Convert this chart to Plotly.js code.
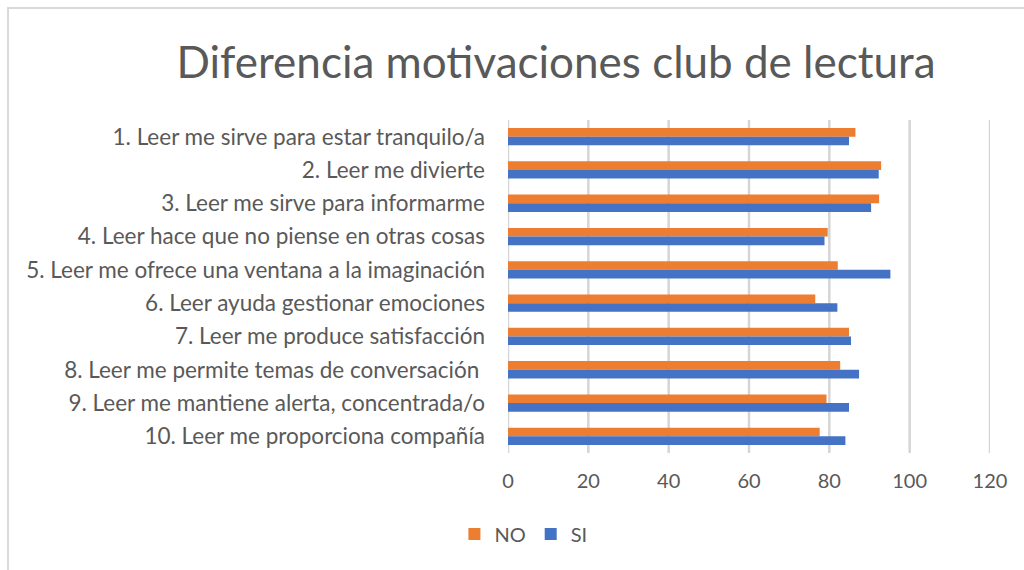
<!DOCTYPE html>
<html>
<head>
<meta charset="utf-8">
<script src="https://cdn.plot.ly/plotly-3.0.1.min.js"></script>
<style>
html,body{margin:0;padding:0;background:#fff;}
#chart{position:absolute;left:0;top:0;width:1024px;height:570px;}
#frame{position:absolute;left:7px;top:7px;width:1100px;height:700px;border-left:2px solid #d9d9d9;border-top:2px solid #d9d9d9;pointer-events:none;}
</style>
</head>
<body>
<div id="chart"></div>
<div id="frame"></div>
<script>
const categories = [
  "1. Leer me sirve para estar tranquilo/a",
  "2. Leer me divierte",
  "3. Leer me sirve para informarme",
  "4. Leer hace que no piense en otras cosas",
  "5. Leer me ofrece una ventana a la imaginación",
  "6. Leer ayuda gestionar emociones",
  "7. Leer me produce satisfacción",
  "8. Leer me permite temas de conversación ",
  "9. Leer me mantiene alerta, concentrada/o",
  "10. Leer me proporciona compañía"
];
const valuesNO = [86.5, 92.9, 92.4, 79.6, 82.1, 76.5, 84.9, 82.7, 79.3, 77.6];
const valuesSI = [84.9, 92.3, 90.4, 78.8, 95.2, 82.0, 85.4, 87.4, 84.9, 84.0];
const seriesNames = ["NO", "SI"];
const tickValues = [0, 20, 40, 60, 80, 100, 120];

const font = "Lato, 'Open Sans', sans-serif";
const grey = "#595959";

const traces = [
  {type: "bar", orientation: "h", name: seriesNames[0], y: categories, x: valuesNO,
   marker: {color: "#ED7D31"}, hoverinfo: "x+y"},
  {type: "bar", orientation: "h", name: seriesNames[1], y: categories, x: valuesSI,
   marker: {color: "#4472C4"}, hoverinfo: "x+y"}
];

const layout = {
  width: 1024, height: 570,
  paper_bgcolor: "#fff", plot_bgcolor: "#fff",
  margin: {l: 508, r: 34, t: 120, b: 117},
  title: {text: "Diferencia motivaciones club de lectura", x: 0.543, xanchor: "center", y: 0.89, yanchor: "middle",
          font: {family: font, size: 44, color: grey}},
  barmode: "group", bargap: 0.48, bargroupgap: 0,
  xaxis: {range: [0, 120], tickvals: tickValues, showgrid: false,
          zeroline: false, showline: false, ticks: "", ticklen: 0, ticklabelstandoff: 14,
          tickfont: {family: font, size: 20, color: grey}},
  yaxis: {autorange: "reversed", showgrid: false, zeroline: false, showline: false, ticks: "",
          ticklabelstandoff: 22,
          tickfont: {family: font, size: 22.5, color: grey}},
  shapes: tickValues.map(v => ({type: "line", xref: "x", yref: "paper", x0: v, x1: v, y0: 0, y1: 1,
          line: {color: "#d5d5d5", width: 2.5}, layer: "below"})),
  showlegend: true,
  legend: {orientation: "h", x: 0.032, xanchor: "center", y: -0.185, yanchor: "top",
           font: {family: font, size: 20, color: grey}, itemwidth: 30, traceorder: "normal"}
};

Plotly.newPlot("chart", traces, layout, {displayModeBar: false, staticPlot: true});
</script>
</body>
</html>
